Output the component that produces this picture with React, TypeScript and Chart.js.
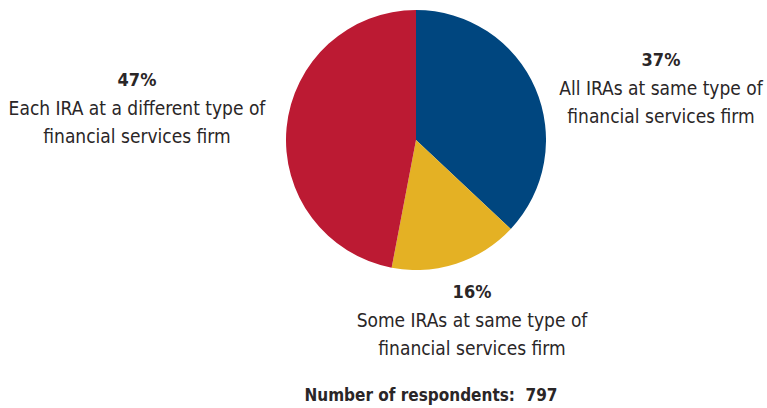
import React, { useEffect, useRef } from "react";
import { Chart, registerables } from "chart.js";

Chart.register(...registerables);

const categories = [
  "All IRAs at same type of financial services firm",
  "Some IRAs at same type of financial services firm",
  "Each IRA at a different type of financial services firm",
];
const values = [37, 16, 47];
const colors = ["#00467F", "#E4B124", "#BC1A33"];
const respondents = 797;

const FONT = "'DejaVu Sans Condensed', 'Liberation Sans Narrow', 'Roboto', sans-serif";
const TEXT = "#2A2627";

type LabelProps = { cx: number; top: number; pct: number; lines: string[] };

function Label({ cx, top, pct, lines }: LabelProps) {
  return (
    <div
      style={{
        position: "absolute",
        left: cx,
        top,
        transform: "translateX(-50%)",
        textAlign: "center",
        whiteSpace: "nowrap",
        fontFamily: FONT,
        fontSize: 19,
        lineHeight: "28px",
        color: TEXT,
      }}
    >
      <div style={{ fontWeight: 700, fontSize: 18 }}>{pct}%</div>
      {lines.map((l, i) => (
        <div key={i}>{l}</div>
      ))}
    </div>
  );
}

export default function App() {
  const ref = useRef<HTMLCanvasElement | null>(null);

  useEffect(() => {
    if (!ref.current) return;
    const chart = new Chart(ref.current, {
      type: "pie",
      data: {
        labels: categories,
        datasets: [
          {
            data: values,
            backgroundColor: colors,
            borderWidth: 0,
          },
        ],
      },
      options: {
        animation: false,
        responsive: false,
        maintainAspectRatio: false,
        layout: { padding: 0 },
        plugins: {
          legend: { display: false },
          tooltip: { enabled: false },
        },
      },
    });
    return () => chart.destroy();
  }, []);

  return (
    <div
      style={{
        position: "absolute",
        left: 0,
        top: 0,
        width: 767,
        height: 408,
        background: "#fff",
        overflow: "hidden",
      }}
    >
      <canvas
        ref={ref}
        width={260}
        height={260}
        style={{ position: "absolute", left: 286, top: 10, width: 260, height: 260 }}
      />
      <Label cx={137} top={66} pct={values[2]} lines={["Each IRA at a different type of", "financial services firm"]} />
      <Label cx={661} top={46} pct={values[0]} lines={["All IRAs at same type of", "financial services firm"]} />
      <Label cx={472} top={278} pct={values[1]} lines={["Some IRAs at same type of", "financial services firm"]} />
      <div
        style={{
          position: "absolute",
          left: 431,
          top: 381,
          transform: "translateX(-50%)",
          whiteSpace: "nowrap",
          fontFamily: FONT,
          fontSize: 17,
          lineHeight: "28px",
          fontWeight: 700,
          color: TEXT,
        }}
      >
        Number of respondents:&nbsp; {respondents}
      </div>
    </div>
  );
}
